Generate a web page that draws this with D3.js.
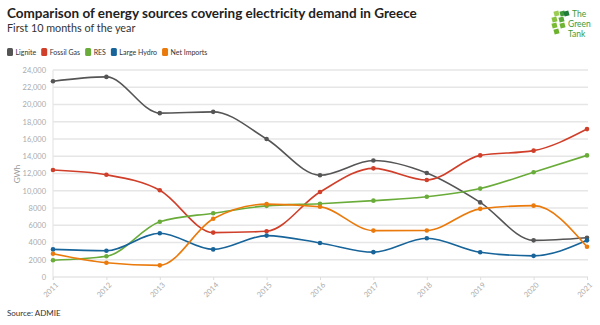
<!DOCTYPE html>
<html>
<head>
<meta charset="utf-8">
<script src="https://cdn.jsdelivr.net/npm/d3@7"></script>
<style>
  body { margin: 0; background: #fff; }
  text { font-family: "Lato", "Noto Sans", sans-serif; }
</style>
</head>
<body>
<script>
var width = 600, height = 325

var years = ["2011","2012","2013","2014","2015","2016","2017","2018","2019","2020","2021"]
var lignite    = [22700, 23200, 19000, 19150, 16000, 11800, 13500, 12050, 8650, 4250, 4550]
var fossilGas  = [12400, 11850, 10050, 5150, 5300, 9850, 12600, 11250, 14100, 14650, 17150]
var res        = [1950, 2400, 6400, 7400, 8250, 8500, 8850, 9300, 10250, 12150, 14100]
var largeHydro = [3200, 3050, 5080, 3200, 4800, 3950, 2880, 4500, 2870, 2450, 4250]
var netImports = [2700, 1650, 1350, 6750, 8450, 8150, 5380, 5400, 7900, 8270, 3500]
var yTicks = [0, 2000, 4000, 6000, 8000, 10000, 12000, 14000, 16000, 18000, 20000, 22000, 24000]

var series = [
  {name: "Lignite", color: "#555555", values: lignite},
  {name: "Fossil Gas", color: "#d03f2a", values: fossilGas},
  {name: "RES", color: "#6aac3a", values: res},
  {name: "Large Hydro", color: "#17649a", values: largeHydro},
  {name: "Net Imports", color: "#ea7a0c", values: netImports}
]

var svg = d3.select("body").append("svg")
  .attr("width", width)
  .attr("height", height)

// title block
svg.append("text").attr("x", 7).attr("y", 18)
  .attr("font-size", 13.5).attr("font-weight", "bold").attr("fill", "#222")
  .text("Comparison of energy sources covering electricity demand in Greece")
svg.append("text").attr("x", 7).attr("y", 32)
  .attr("font-size", 10.8).attr("fill", "#333")
  .text("First 10 months of the year")

// legend
var lx = 7
series.forEach(function(s) {
  svg.append("rect").attr("x", lx).attr("y", 48).attr("width", 6).attr("height", 8)
    .attr("rx", 1.5).attr("fill", s.color)
  var t = svg.append("text").attr("x", lx + 8.5).attr("y", 55.3)
    .attr("font-size", 7).attr("fill", "#333").text(s.name)
  lx += 8.5 + t.node().getComputedTextLength() + 5
})

// logo
var logo = svg.append("g").attr("transform", "translate(548,8)")
var sq = [[6,3,"#9ccc54"],[4,9,"#86c23f"],[4,15,"#7bbb34"],[6,21,"#6db22c"],[12,3,"#3f9a3a"],[11,9,"#5aa93a"],[12,15,"#70b436"],[16,3,"#1e7b3a"]]
sq.forEach(function(d) {
  logo.append("rect").attr("x", d[0]).attr("y", d[1]).attr("width", 5).attr("height", 5)
    .attr("fill", d[2]).attr("transform", "rotate(-15," + (d[0]+2.5) + "," + (d[1]+2.5) + ")")
})
;["The", "Green", "Tank"].forEach(function(w, i) {
  logo.append("text").attr("x", i == 0 ? 24 : 20).attr("y", 9 + i * 10)
    .attr("font-size", 8.5).attr("fill", "#3d9b3a").text(w)
})

// scales
var x = d3.scalePoint().domain(years).range([53, 587])
var y = d3.scaleLinear().domain([0, 24000]).range([277, 70])

var grid = svg.append("g")
grid.selectAll("line").data(yTicks).enter().append("line")
  .attr("x1", 53).attr("x2", 588)
  .attr("y1", d => y(d)).attr("y2", d => y(d))
  .attr("stroke", "#e6e6e6").attr("stroke-width", 1.5)
svg.append("line").attr("x1", 53).attr("x2", 53).attr("y1", 70).attr("y2", 280)
  .attr("stroke", "#e6e6e6").attr("stroke-width", 1.2)

var yAxis = svg.append("g").attr("transform", "translate(49,0)")
  .call(d3.axisLeft(y).tickValues(yTicks).tickSize(0)
    .tickFormat(d => d >= 10000 ? d3.format(",")(d) : d))
yAxis.select(".domain").remove()
yAxis.selectAll("text").attr("fill", "#aaa").attr("font-size", 7.5)
  .attr("font-family", "Lato, sans-serif")

svg.append("text").attr("transform", "translate(20,174) rotate(-90)")
  .attr("text-anchor", "middle").attr("font-size", 8).attr("fill", "#999").text("GWh")

var xAxis = svg.append("g").attr("transform", "translate(0,277)")
  .call(d3.axisBottom(x).tickSize(3))
xAxis.select(".domain").remove()
xAxis.selectAll("line").attr("stroke", "#ddd")
xAxis.selectAll("text").attr("fill", "#aaa").attr("font-size", 7.5)
  .attr("font-family", "Lato, sans-serif")
  .attr("text-anchor", "end").attr("transform", "rotate(-45)")
  .attr("dx", "-0.3em").attr("dy", "0.5em")

// lines
var line = d3.line()
  .x((d, i) => x(years[i]))
  .y(d => y(d))
  .curve(d3.curveMonotoneX)

series.forEach(function(s) {
  svg.append("path").datum(s.values).attr("d", line)
    .attr("fill", "none").attr("stroke", s.color).attr("stroke-width", 1.6)
  svg.append("g").selectAll("circle").data(s.values).enter().append("circle")
    .attr("cx", (d, i) => x(years[i])).attr("cy", d => y(d))
    .attr("r", 2.3).attr("fill", s.color)
})

svg.append("text").attr("x", 7).attr("y", 316)
  .attr("font-size", 8).attr("fill", "#333").text("Source: ADMIE")
</script>
</body>
</html>
